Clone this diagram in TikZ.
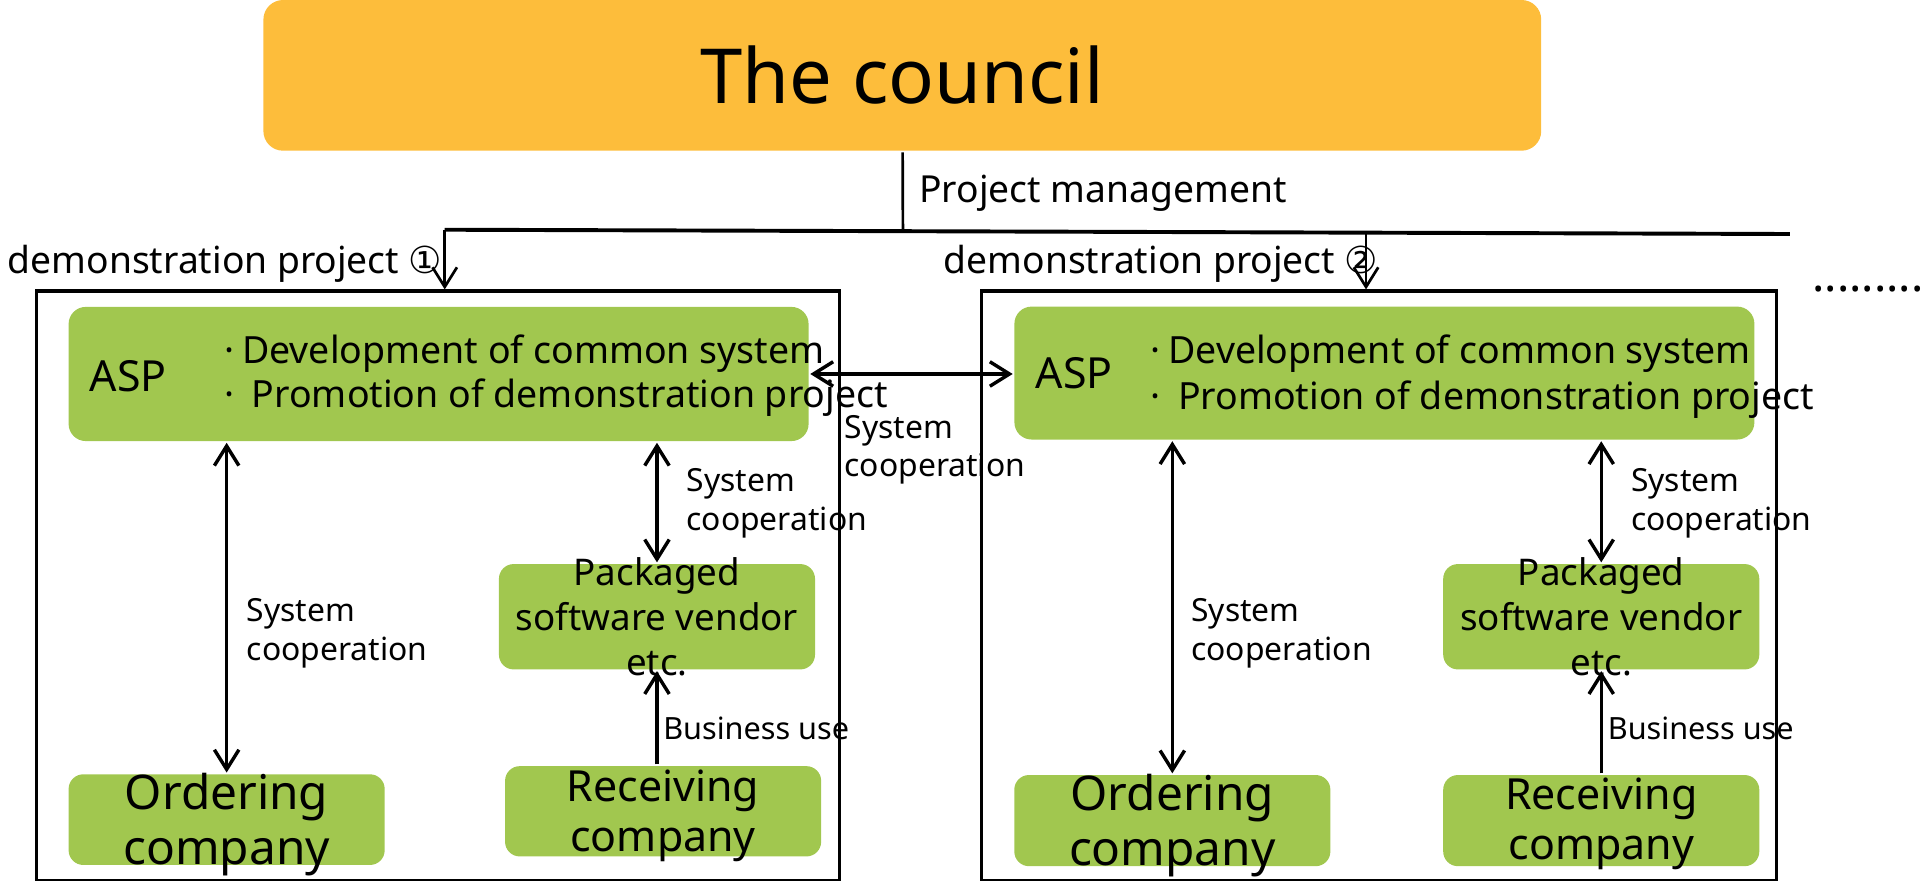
\documentclass[tikz,border=0pt]{standalone}
\usepackage{fontspec}
\setmainfont{Noto Sans}
\newfontfamily\circfont{DejaVu Sans}
\usetikzlibrary{arrows.meta}
\definecolor{council}{RGB}{253,189,59}
\definecolor{asp}{RGB}{161,199,79}
\begin{document}
\begin{tikzpicture}[
   x=0.5pt, y=-0.5pt, line width=1.4pt, >={Straight Barb[length=8pt,width=10pt]},
   box/.style={fill=asp, rounded corners=6pt, inner sep=0pt, minimum width=129pt},
   frame/.style={draw, line width=1.25pt, inner sep=0pt, minimum height=240.45pt},
   txt/.style={inner sep=0pt, align=center},
   lbl/.style={inner sep=0pt, align=left, anchor=base west},
   coop/.style={lbl, font=\fontsize{13}{15.7}\selectfont}
]
   \useasboundingbox (0,0) rectangle (1568,719.1);
   \node (C) [fill=council, rounded corners=8pt, minimum width=521.5pt, minimum height=61.5pt,
      font=\fontsize{31}{37}\selectfont] at (736.5,61.5) {The council};
   \node (pm) [lbl, font=\fontsize{15.2}{18}\selectfont] at (749,165) {Project management};
   \coordinate (j) at (737,188.8);
   \coordinate (b0) at (363,187.5);
   \coordinate (b1) at (1461,191);
   \coordinate (b2) at (1115,190.1);

   \node (F1) [frame, minimum width=327.75pt] at (357.25,477.95) {};
   \node (F2) [frame, minimum width=324.7pt] at (1125.7,477.95) {};
   \node (d1) [lbl, font=\fontsize{15.2}{18}\selectfont] at (5,223) {demonstration project {\circfont ①}};
   \node (d2) [lbl, font=\fontsize{15.2}{18}\selectfont] at (769,223) {demonstration project {\circfont ②}};
   \node (more) [lbl, font=\fontsize{18.8}{20}\selectfont] at (1478,238) {.........};

   \draw[line width=1.1pt] (C) -- (j);
   \draw[line width=1.6pt] (b0) -- (b1);
   \draw[->, line width=1.1pt] (b0) -- (b0 |- F1.north);
   \draw[->, line width=1.1pt] (b2) -- (b2 |- F2.north);

   \node (A1) [box, rounded corners=7pt, minimum width=302pt, minimum height=54.75pt] at (358,305.25) {};
   \node (A2) [box, rounded corners=7pt, minimum width=302pt, minimum height=54.25pt] at (1130,304.5) {};
   \node (a1) [lbl, font=\fontsize{17.5}{21}\selectfont] at (72,319.7) {ASP};
   \node (a2) [lbl, font=\fontsize{17.5}{21}\selectfont] at (844,317) {ASP};
   \node (t1) [lbl, font=\fontsize{15.3}{18}\selectfont] at (182,333)
      {·\hspace{3pt}Development of common system\\ ·\hspace{3pt} Promotion of demonstration project};
   \node (t2) [lbl, font=\fontsize{15.3}{18.5}\selectfont] at (938,334)
      {·\hspace{3pt}Development of common system\\ ·\hspace{3pt} Promotion of demonstration project};

   \node (P1) [box, minimum height=43pt] at (536.25,503.4) {};
   \node (P2) [box, minimum height=43pt] at (1307,503.4) {};
   \node (O1) [box, minimum height=37pt] at (185,669) {};
   \node (O2) [box, minimum height=37.2pt] at (956.9,669.8) {};
   \node (R1) [box, minimum height=36.85pt] at (541.25,662.2) {};
   \node (R2) [box, minimum height=37.2pt] at (1307,669.8) {};
   \node (p1) [txt, font=\fontsize{15}{18.4}\selectfont] at (P1) {Packaged\\software vendor\\etc.};
   \node (p2) [txt, font=\fontsize{15}{18.4}\selectfont] at (P2) {Packaged\\software vendor\\etc.};
   \node (o1) [txt, yshift=-2pt, font=\fontsize{19.5}{22.6}\selectfont] at (O1) {Ordering\\company};
   \node (o2) [txt, yshift=-2pt, font=\fontsize{19.5}{22.6}\selectfont] at (O2) {Ordering\\company};
   \node (r1) [txt, yshift=-2pt, font=\fontsize{17.5}{20.4}\selectfont] at (R1) {Receiving\\company};
   \node (r2) [txt, yshift=-1.5pt, font=\fontsize{17.5}{20.4}\selectfont] at (R2) {Receiving\\company};

   \draw[<->] (A1.east) -- (A1.east -| A2.west);
   \draw[<->] (O1.north |- A1.south) -- (O1);
   \draw[<->] (P1.north |- A1.south) -- (P1);
   \draw[->] (P1.south |- R1.north) -- (P1);
   \draw[<->] (O2.north |- A2.south) -- (O2);
   \draw[<->] (P2.north |- A2.south) -- (P2);
   \draw[->] (R2) -- (P2);

   \node (s0) [coop] at (688,389) {System\\cooperation};
   \node (s1) [coop] at (200,538.8) {System\\cooperation};
   \node (s2) [coop] at (559,432.7) {System\\cooperation};
   \node (s3) [coop] at (971,538.8) {System\\cooperation};
   \node (s4) [coop] at (1330,432.7) {System\\cooperation};
   \node (u1) [lbl, font=\fontsize{12.5}{15}\selectfont] at (540,604) {Business use};
   \node (u2) [lbl, font=\fontsize{12.5}{15}\selectfont] at (1311,604) {Business use};
\end{tikzpicture}
\end{document}
